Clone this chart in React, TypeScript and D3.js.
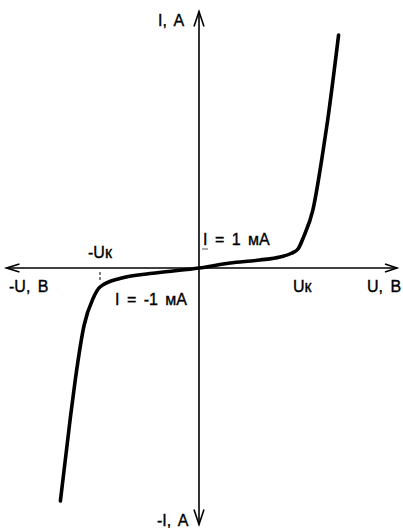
import React from "react";
import * as d3 from "d3";

// Varistor current–voltage characteristic (U in units of Uк, I in mA)
const negU = [-1.4, -1.3, -1.25, -1.16, -1.07, -1.0, -0.8, -0.42, 0];
const negI = [-12.26, -7.9, -5.9, -3.0, -1.6, -1.0, -0.55, -0.25, 0];
const posU = [0, 0.313, 0.616, 0.818, 0.94, 1.0, 1.06, 1.15, 1.25, 1.3, 1.41];
const posI = [0, 0.26, 0.42, 0.58, 0.79, 1.0, 1.68, 3.05, 6.05, 7.79, 12.26];

// axis extents (data units)
const uAxis = [-1.945, 2.0];
const iAxis = [-13.5, 13.5];
const uKnee = 1.0;

const W = 403;
const H = 528;
const FONT = "'Liberation Sans', Arial, sans-serif";

export default function App() {
  const x = d3.scaleLinear().domain([-2, 2]).range([1, 397]);
  const y = d3.scaleLinear().domain([-13.5, 13.5]).range([524.5, 11.5]);

  const pts: [number, number][] = [
    ...negU.map((u, i) => [u, negI[i]] as [number, number]),
    ...posU.slice(1).map((u, i) => [u, posI[i + 1]] as [number, number]),
  ];
  const line = d3
    .line<[number, number]>()
    .x((d) => x(d[0]))
    .y((d) => y(d[1]))
    .curve(d3.curveMonotoneX);

  const x0 = x(0);
  const y0 = y(0);
  const xl = x(uAxis[0]);
  const xr = x(uAxis[1]);
  const yt = y(iAxis[1]);
  const yb = y(iAxis[0]);

  const txt = {
    fontFamily: FONT,
    fontSize: 16,
    wordSpacing: 3,
    fill: "#000",
    stroke: "#000",
    strokeWidth: 0.35,
  } as React.CSSProperties;

  return (
    <svg
      width={W}
      height={H}
      style={{ position: "absolute", left: 0, top: 0, background: "#fff" }}
    >
      {/* axes */}
      <g stroke="#000" strokeWidth={1.6} fill="none">
        <line x1={xl} y1={y0} x2={xr} y2={y0} />
        <line x1={x0} y1={yt} x2={x0} y2={yb} />
        <path d={`M${xl + 13},${y0 - 4}L${xl},${y0}L${xl + 13},${y0 + 4}`} />
        <path d={`M${xr - 12},${y0 - 4}L${xr},${y0}L${xr - 12},${y0 + 4}`} />
        <path d={`M${x0 - 5},${yt + 15}L${x0},${yt}L${x0 + 5},${yt + 15}`} />
        <path d={`M${x0 - 5},${yb - 15}L${x0},${yb}L${x0 + 5},${yb - 15}`} />
      </g>
      {/* knee marks */}
      <line
        x1={x(-uKnee)}
        x2={x(-uKnee)}
        y1={y0 + 4}
        y2={y0 + 12}
        stroke="#000"
        strokeWidth={1}
        strokeDasharray="3,2"
      />
      <line
        x1={x0 + 3}
        x2={x0 + 9}
        y1={y(1)}
        y2={y(1)}
        stroke="#555"
        strokeWidth={1}
      />
      {/* characteristic */}
      <path
        d={line(pts) ?? ""}
        fill="none"
        stroke="#000"
        strokeWidth={3.6}
        strokeLinecap="round"
        strokeLinejoin="round"
      />
      {/* labels */}
      <text x={158} y={26} style={txt}>I, A</text>
      <text x={157} y={526} style={txt}>-I, A</text>
      <text x={9} y={292} style={txt}>-U, B</text>
      <text x={367} y={292} style={txt}>U, B</text>
      <text x={88} y={258} style={txt}>-Uк</text>
      <text x={293} y={292} style={txt}>Uк</text>
      <text x={203} y={245} style={txt}>I = 1 мА</text>
      <text x={115} y={305} style={txt}>I = -1 мА</text>
    </svg>
  );
}
